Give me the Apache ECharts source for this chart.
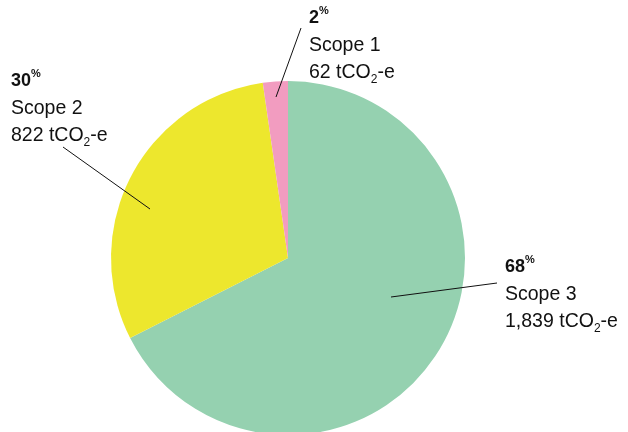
<!DOCTYPE html>
<html><head><meta charset="utf-8">
<script src="https://cdn.jsdelivr.net/npm/echarts@6/dist/echarts.min.js"></script>
<style>html,body{margin:0;padding:0;background:#fff}#c{width:628px;height:432px}</style>
</head><body><div id="c"></div>
<script>
const categories = ['Scope 3', 'Scope 2', 'Scope 1'];
const emissions = [1839, 822, 62];
const unitMain = 'tCO';
const unitSub = '2';
const unitTail = '-e';

const colors = ['#95D1B0', '#EDE72D', '#F29CC0'];
// label layout (positions of label boxes and leader lines)
const labelPos = [
  {x: 505, y: 254, line: [[391, 297], [497, 283]]},
  {x: 11, y: 68, line: [[150, 209], [63, 147]]},
  {x: 309, y: 5, line: [[276, 97], [301, 28]]}
];

function fmt(n){ return n.toString().replace(/\B(?=(\d{3})+(?!\d))/g, ','); }

const chart = echarts.init(document.getElementById('c'), null, {renderer: 'canvas'});
const ff = '"Liberation Sans", Arial, Helvetica, sans-serif';
chart.setOption({
  animation: false,
  graphic: labelPos.map(L => ({
    type: 'polyline',
    z: 100,
    silent: true,
    shape: {points: L.line},
    style: {stroke: '#111', lineWidth: 1, fill: null}
  })),
  series: [{
    type: 'pie',
    center: [288, 258],
    radius: 177,
    startAngle: 90,
    clockwise: true,
    silent: true,
    data: categories.map((c, i) => ({name: c, value: emissions[i], itemStyle: {color: colors[i]}})),
    itemStyle: {borderWidth: 0},
    label: {
      show: true,
      position: 'outside',
      align: 'left',
      overflow: 'none',
      formatter: p => '{pct|' + Math.round(p.percent) + '}{sup|%}\n{t|' + p.name + '}\n{t|' + fmt(p.value) + ' ' + unitMain + '}{sub|' + unitSub + '}{t|' + unitTail + '}',
      rich: {
        pct: {fontFamily: ff, fontWeight: 'bold', fontSize: 18, color: '#111', lineHeight: 27},
        sup: {fontFamily: ff, fontWeight: 'bold', fontSize: 11, color: '#111', lineHeight: 8, verticalAlign: 'top'},
        t: {fontFamily: ff, fontSize: 19.5, color: '#111', lineHeight: 27},
        sub: {fontFamily: ff, fontSize: 12, color: '#111', lineHeight: 7, verticalAlign: 'bottom'}
      }
    },
    labelLine: {show: false},
    labelLayout: function (params) {
      const L = labelPos[params.dataIndex];
      return {x: L.x, y: L.y, align: 'left', verticalAlign: 'top'};
    }
  }]
});
</script></body></html>
